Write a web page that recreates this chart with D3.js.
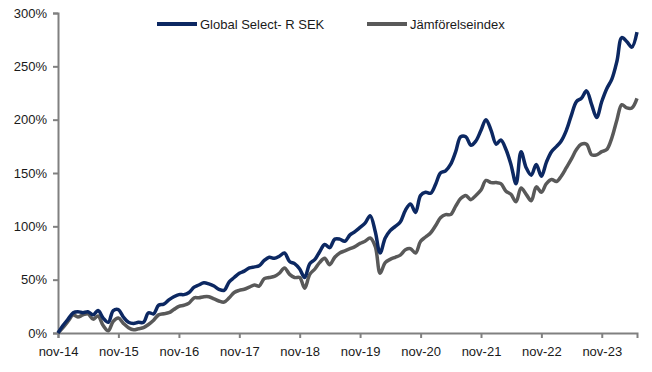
<!DOCTYPE html>
<html>
<head>
<meta charset="utf-8">
<script src="https://cdn.jsdelivr.net/npm/d3@7"></script>
<style>
  body { margin: 0; background: #fff; }
  svg text { font-family: "Liberation Sans", Arial, sans-serif; fill: #1a1a1a; }
</style>
</head>
<body>
<div id="chart"></div>
<script>
// monthly values, nov-14 .. jun-24 (% return since start)
const fundValues = [0, 7, 13, 19, 20, 19, 20, 17, 21, 14, 10, 21, 22, 15, 10, 9, 10, 10, 19, 18,
  26, 27, 31, 34, 36, 36, 38, 43, 45, 47, 46, 44, 41, 40, 48, 52, 56, 58, 61, 62,
  63, 68, 71, 70, 72, 75, 67, 65, 60, 52, 65, 69, 76, 83, 80, 88, 88, 86, 92, 95,
  99, 103, 110, 95, 75, 89, 96, 100, 104, 115, 121, 113, 129, 132, 131, 140, 150, 152, 158, 170,
  184, 184, 176, 180, 190, 200, 190, 177, 181, 172, 158, 140, 170, 155, 148, 158, 147, 160, 170, 175,
  180, 190, 204, 217, 220, 227, 214, 202, 217, 229, 238, 255, 277, 273, 268, 282];
const indexValues = [0, 5, 11, 17, 15, 17, 18, 13, 16, 7, 2, 11, 14, 9, 5, 3, 4, 5, 8, 12,
  17, 18, 19, 22, 25, 26, 28, 33, 33, 34, 34, 32, 30, 29, 33, 38, 40, 41, 43, 45,
  44, 51, 52, 53, 56, 61, 55, 52, 52, 42, 55, 60, 66, 70, 64, 71, 75, 77, 79, 81,
  84, 86, 89, 81, 56, 66, 69, 71, 73, 78, 79, 75, 86, 90, 94, 101, 108, 111, 111, 119,
  126, 129, 125, 129, 134, 143, 141, 141, 140, 133, 130, 123, 136, 130, 124, 137, 132, 140, 144, 142,
  147, 155, 163, 172, 177, 177, 167, 167, 170, 172, 183, 200, 214, 211, 211, 220];
const seriesNames = ["Global Select- R SEK", "Jämförelseindex"];
const seriesColors = ["#0c2862", "#595959"];
const yTicks = [0, 50, 100, 150, 200, 250, 300];
const xTickYears = [2014, 2015, 2016, 2017, 2018, 2019, 2020, 2021, 2022, 2023];

const width = 652, height = 372;
const margin = { top: 13, right: 15, bottom: 39, left: 58 };

const months = fundValues.map((v, i) => new Date(2014, 10 + i, 1));

const svg = d3.select("#chart").append("svg")
  .attr("width", width)
  .attr("height", height);

const x = d3.scaleTime()
  .domain([months[0], months[months.length - 1]])
  .range([margin.left, width - margin.right]);

const y = d3.scaleLinear()
  .domain([0, 300])
  .range([height - margin.bottom, margin.top]);

// y axis
const yAxis = svg.append("g")
  .attr("transform", "translate(" + margin.left + ",0)")
  .call(d3.axisLeft(y).tickValues(yTicks).tickSize(5).tickPadding(6).tickFormat(d => d + "%"));

// x axis
const xAxis = svg.append("g")
  .attr("transform", "translate(0," + (height - margin.bottom) + ")")
  .call(d3.axisBottom(x)
    .tickValues(xTickYears.map(yr => new Date(yr, 10, 1)))
    .tickSize(5).tickPadding(9)
    .tickFormat(d => "nov-" + String(d.getFullYear()).slice(2)));

[yAxis, xAxis].forEach(ax => {
  ax.select(".domain").attr("stroke", "#808080").attr("stroke-width", 2);
  ax.selectAll(".tick line").attr("stroke", "#808080").attr("stroke-width", 2);
  ax.selectAll(".tick text").style("font-size", "13px").attr("fill", "#1a1a1a");
});

const line = d3.line()
  .x((d, i) => x(months[i]))
  .y(d => y(d))
  .curve(d3.curveCatmullRom.alpha(0.5));

// index first, fund on top
[indexValues, fundValues].forEach((vals, k) => {
  svg.append("path")
    .datum(vals)
    .attr("fill", "none")
    .attr("stroke", seriesColors[1 - k])
    .attr("stroke-width", 3.5)
    .attr("stroke-linejoin", "round")
    .attr("d", line);
});

// legend
const legendX = [157, 367];
seriesNames.forEach((name, i) => {
  const g = svg.append("g").attr("transform", "translate(" + legendX[i] + ",24)");
  g.append("line")
    .attr("x1", 0).attr("x2", 40)
    .attr("stroke", seriesColors[i])
    .attr("stroke-width", 4);
  g.append("text")
    .attr("x", 43).attr("y", 5)
    .style("font-size", "13px")
    .text(name);
});
</script>
</body>
</html>
